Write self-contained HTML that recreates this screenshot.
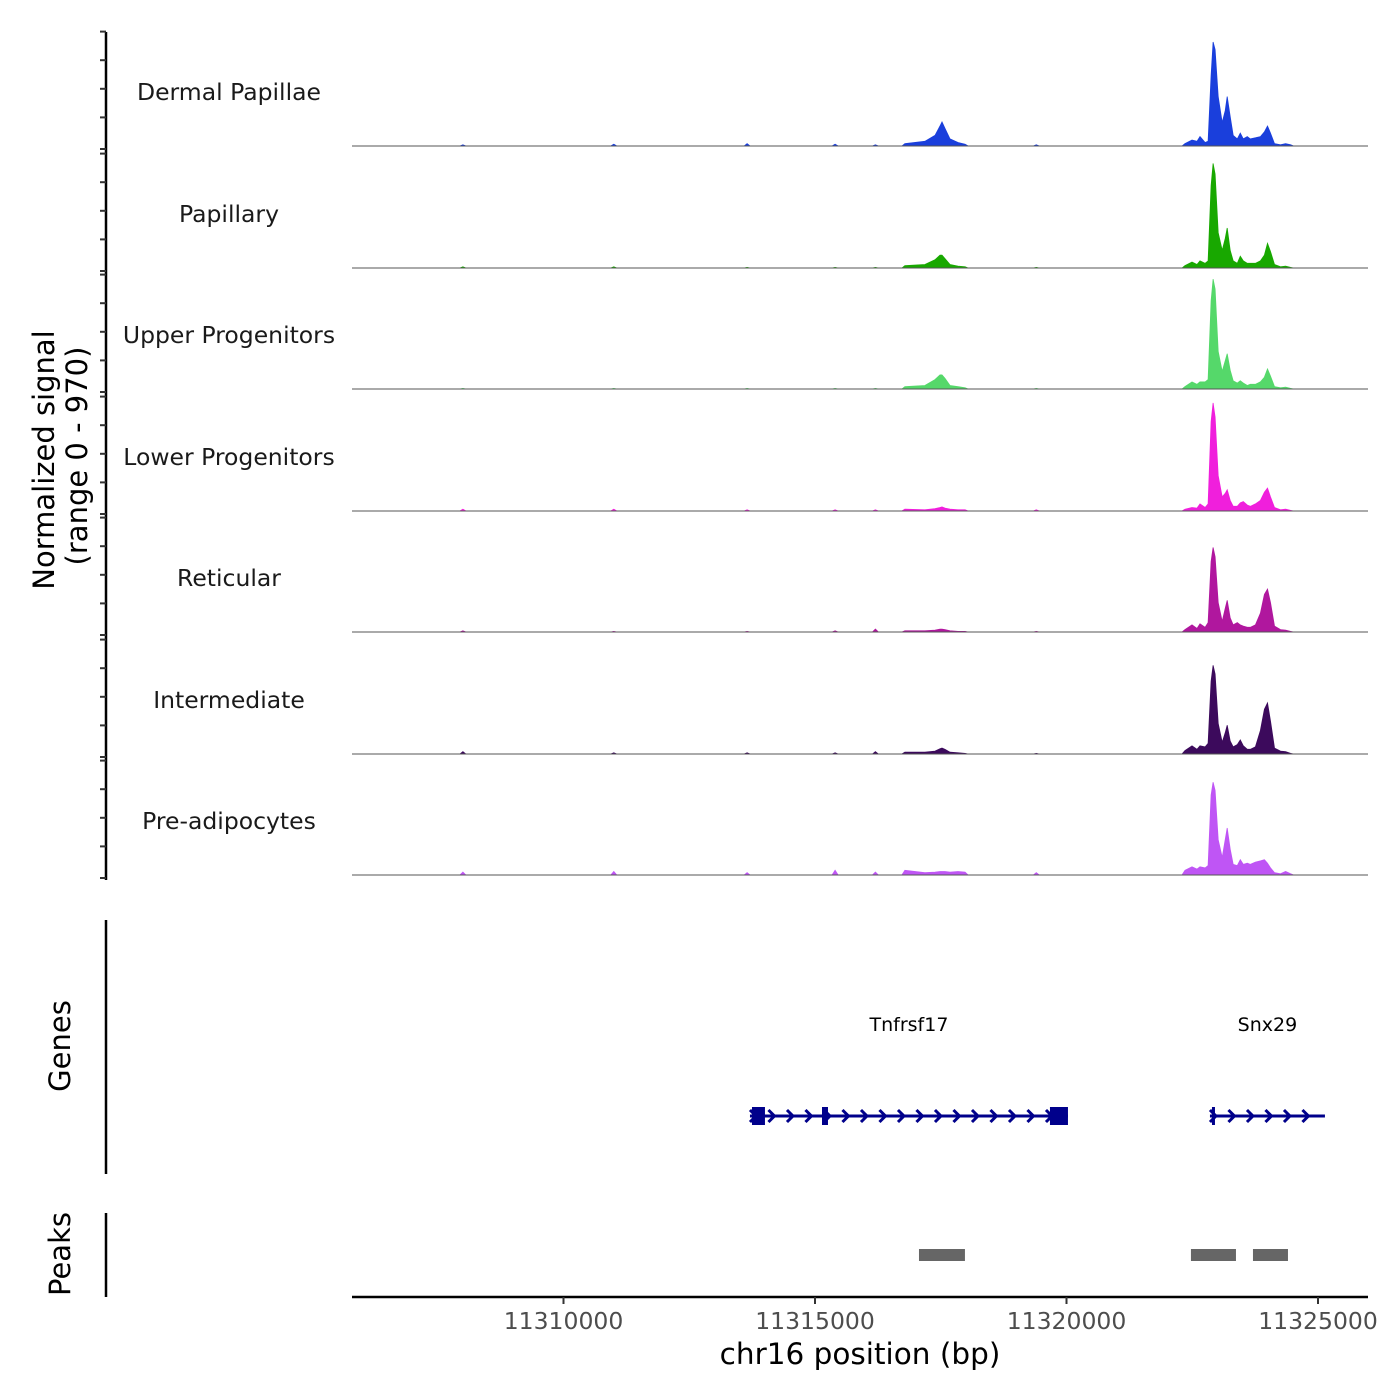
<!DOCTYPE html>
<html><head><meta charset="utf-8"><style>
html,body{margin:0;padding:0;background:#fff;}
svg{display:block;font-family:"DejaVu Sans","Liberation Sans",sans-serif;}
</style></head><body>
<svg id="chart" width="1400" height="1400" viewBox="0 0 1400 1400"></svg>
<script>
const positions = [11306200,11308000,11311000,11313650,11315400,11316200,11316787,11317185,11317385,11317485,11317525,11317584,11317684,11317843,11317983,11319400,
11322355,11322495,11322595,11322655,11322755,11322815,11322875,11322915,11322955,11323015,11323095,11323155,11323195,11323255,11323315,11323395,11323455,11323515,11323595,11323655,11323755,11323855,11323935,11323995,11324055,11324135,11324255,11324355,11324455,11325700];
const trackNames = ["Dermal Papillae","Papillary","Upper Progenitors","Lower Progenitors","Reticular","Intermediate","Pre-adipocytes"];
const trackColors = ["#1a3fdc","#18a800","#55d86a","#f01fdc","#b0179e","#3c0a5c","#bf55f5"];
const dermalValues = [0,10,15,20,15,10,20,40,90,170,205,150,60,30,15,10, 20,50,40,80,30,40,600,885,820,420,200,300,420,250,90,60,110,60,80,60,70,80,120,170,110,20,10,20,10,0];
const papillaryValues = [0,10,10,5,5,5,20,30,70,110,110,80,30,15,10,5, 20,50,30,60,40,60,700,890,800,300,150,250,340,150,60,40,100,60,40,40,40,60,110,210,140,30,10,15,5,0];
const upperValues = [0,5,5,5,5,5,20,30,80,120,120,90,30,20,10,5, 20,60,40,60,60,80,750,935,850,320,150,240,300,160,70,50,70,50,30,40,40,60,100,170,110,20,10,15,5,0];
const lowerValues = [0,15,15,10,10,10,15,10,20,30,35,25,15,10,10,10, 15,30,25,60,30,60,760,920,800,300,120,150,180,90,40,40,70,80,50,40,60,90,160,195,120,30,10,15,5,0];
const reticularValues = [0,10,5,5,10,25,10,10,15,25,25,20,10,5,5,5, 20,60,30,70,40,80,600,720,640,250,90,200,270,120,60,80,60,50,40,40,60,160,320,365,250,50,20,15,5,0];
const intermediateValues = [0,20,10,10,10,20,15,15,25,45,50,40,15,10,5,5, 30,70,40,70,60,90,620,755,680,260,100,180,245,110,60,80,120,70,40,40,60,200,380,435,280,50,25,20,5,0];
const preadipValues = [0,25,30,20,40,25,40,20,25,30,30,30,25,30,25,20, 40,70,50,70,60,80,680,790,720,300,150,300,400,220,90,80,130,90,100,90,110,120,130,100,60,20,10,30,10,0];
const seriesValues = [dermalValues,papillaryValues,upperValues,lowerValues,reticularValues,intermediateValues,preadipValues];
const xTicks = [11310000,11315000,11320000,11325000];
const genes = [{name:"Tnfrsf17",start:11313707,end:11320029,exons:[[11313747,11314005],[11315139,11315258],[11319671,11320029]]},
               {name:"Snx29",start:11322852,end:11325138,exons:[[11322892,11322932]]}];
const peakRanges = [[11317067,11317981],[11322474,11323369],[11323707,11324403]];
const yMax = 970;

const NS="http://www.w3.org/2000/svg";
const svg=document.getElementById('chart');
const X0=352,X1=1368,BP0=11305795,BP1=11325994;
const xs=bp=>X0+(bp-BP0)/(BP1-BP0)*(X1-X0);
const baselines=[146,268,389,511,632,754,875];
const TH=114;
function mk(tag,attrs,parent){const e=document.createElementNS(NS,tag);for(const k in attrs)e.setAttribute(k,attrs[k]);(parent||svg).appendChild(e);return e;}

const ax=mk('line',{x1:106,y1:32,x2:106,y2:880,stroke:'#000','stroke-width':2.5});


baselines.forEach((b,i)=>{
  for(let k=0;k<5;k++){
    const y=b-k*28.6+(k===0?3:0);
    const t=mk('line',{x1:100,y1:y,x2:106,y2:y,stroke:'#333','stroke-width':2});
    
    
  }
  const sy=v=>b-v/yMax*TH;
  const vals=seriesValues[i];
  let pts=[[xs(positions[0]),b]];
  for(let j=0;j<positions.length;j++){
    const x=xs(positions[j]);
    const gapL=j>0?positions[j]-positions[j-1]:1e9, gapR=j<positions.length-1?positions[j+1]-positions[j]:1e9;
    if(gapL>450) pts.push([x-3,b]);
    pts.push([x,sy(vals[j])]);
    if(gapR>450) pts.push([x+3,b]);
  }
  pts.push([xs(positions[positions.length-1]),b]);
  const p=mk('polygon',{points:pts.map(q=>q[0].toFixed(1)+','+q[1].toFixed(1)).join(' '),fill:trackColors[i],stroke:trackColors[i],'stroke-width':0.8});
  
  
  const bl=mk('line',{x1:X0,y1:b,x2:X1,y2:b,stroke:'#555','stroke-width':1});
  
  
  const lbl=mk('text',{x:229,y:b-46,'text-anchor':'middle','font-size':23.5,fill:'#1a1a1a'});
  lbl.textContent=trackNames[i];
  
  
});
const yt=mk('text',{transform:'translate(54,460) rotate(-90)','text-anchor':'middle','font-size':29,fill:'#000'});
yt.textContent='Normalized signal';


const yt2=mk('text',{transform:'translate(87,456) rotate(-90)','text-anchor':'middle','font-size':29,fill:'#000'});
yt2.textContent='(range 0 - 970)';



const ga=mk('line',{x1:106,y1:920,x2:106,y2:1174,stroke:'#000','stroke-width':2.5});


const gt=mk('text',{transform:'translate(70,1046) rotate(-90)','text-anchor':'middle','font-size':29,fill:'#000'});
gt.textContent='Genes';


const GY=1116, gc='#00008b';
genes.forEach(g=>{
  const x1=xs(g.start),x2=xs(g.end);
  const l=mk('line',{x1:x1,y1:GY,x2:x2,y2:GY,stroke:gc,'stroke-width':3});
  
  
  for(let x=x1+4;x<=x2;x+=18.5){
    const c=mk('polyline',{points:`${x-4},${GY-6} ${x+2},${GY} ${x-4},${GY+6}`,fill:'none',stroke:gc,'stroke-width':3});
    
    
  }
  g.exons.forEach(e=>{
    const a=xs(e[0]),bb=xs(e[1]);
    const r=mk('rect',{x:a,y:GY-9,width:Math.max(bb-a,3),height:18,fill:gc});
    
    
  });
  const t=mk('text',{x:(x1+x2)/2,y:1031,'text-anchor':'middle','font-size':19,fill:'#000'});
  t.textContent=g.name;
  
  
});

const pa=mk('line',{x1:106,y1:1213,x2:106,y2:1297,stroke:'#000','stroke-width':2.5});


const pt=mk('text',{transform:'translate(70,1254) rotate(-90)','text-anchor':'middle','font-size':29,fill:'#000'});
pt.textContent='Peaks';


peakRanges.forEach(r=>{
  const a=xs(r[0]),bb=xs(r[1]);
  const e=mk('rect',{x:a,y:1249,width:bb-a,height:12,fill:'#666'});
  
  
});

const xa=mk('line',{x1:X0,y1:1297,x2:X1,y2:1297,stroke:'#000','stroke-width':2.5});


xTicks.forEach(v=>{
  const x=xs(v);
  const t=mk('line',{x1:x,y1:1297,x2:x,y2:1304,stroke:'#333','stroke-width':2});
  
  
  const l=mk('text',{x:x,y:1329,'text-anchor':'middle','font-size':23.5,fill:'#4d4d4d'});
  l.textContent=String(v);
  
  
});
const xt=mk('text',{x:860,y:1364,'text-anchor':'middle','font-size':29.5,fill:'#000'});
xt.textContent='chr16 position (bp)';


</script>
</body></html>
